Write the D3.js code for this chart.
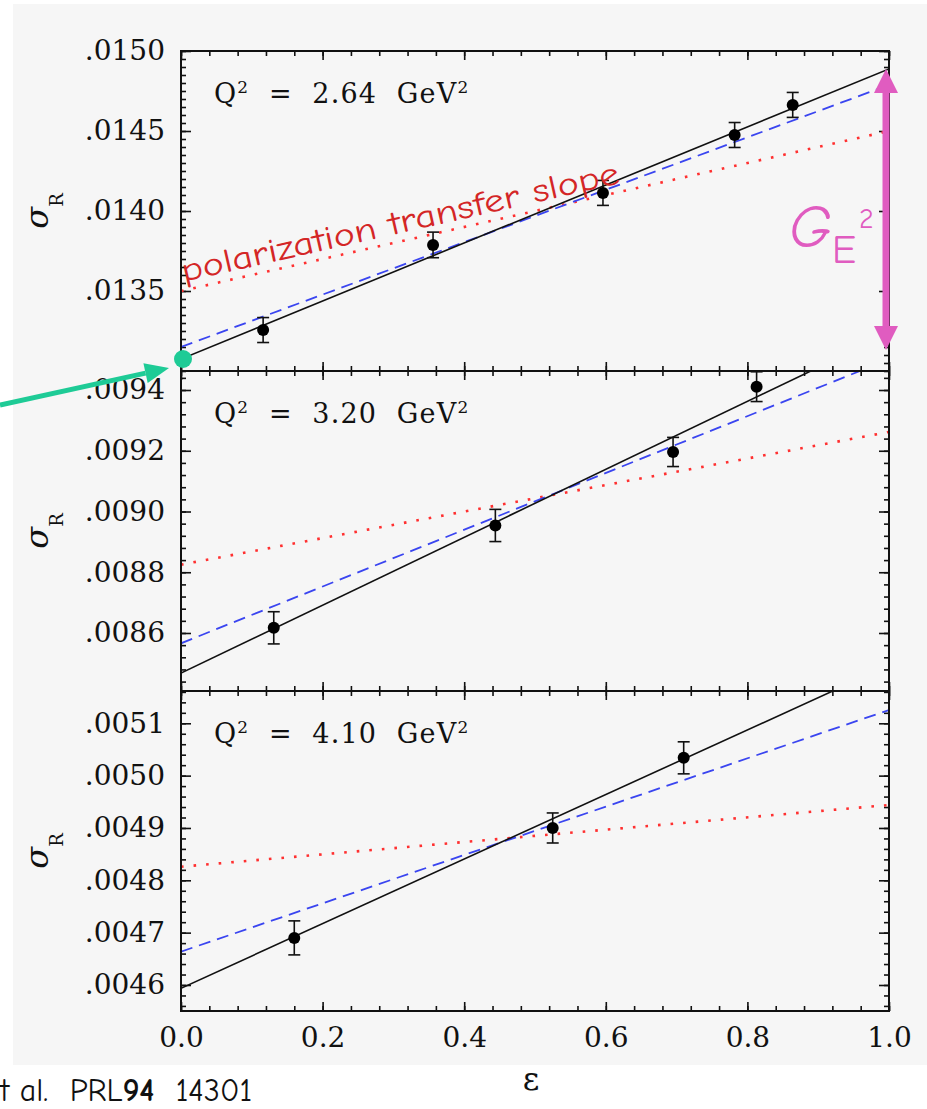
<!DOCTYPE html>
<html>
<head>
<meta charset="utf-8">
<script src="https://cdn.jsdelivr.net/npm/d3@7"></script>
<style>
  body { margin: 0; background: #fff; }
  svg { display: block; }
  .tick text { font-family: "DejaVu Serif", serif; font-size: 28px; fill: #111; }
</style>
</head>
<body>
<svg id="chart" width="927" height="1109"></svg>
<script>
// panel labels
const q2Labels = ["2.64", "3.20", "4.10"];

// Q2 = 2.64 GeV2
const eps1 = [0.116, 0.356, 0.596, 0.782, 0.864];
const sig1 = [0.013256, 0.013788, 0.014113, 0.014475, 0.014663];
const err1 = [0.000078, 0.000080, 0.000078, 0.000078, 0.000078];

// Q2 = 3.20 GeV2
const eps2 = [0.131, 0.444, 0.695, 0.813];
const sig2 = [0.008617, 0.008954, 0.009196, 0.009411];
const err2 = [0.000053, 0.000053, 0.000048, 0.000049];

// Q2 = 4.10 GeV2
const eps3 = [0.160, 0.525, 0.710];
const sig3 = [0.004690, 0.004900, 0.005034];
const err3 = [0.0000325, 0.0000287, 0.0000306];

// straight fits, value at eps = 0 and eps = 1
const fitRosen  = [[0.013075, 0.014888], [0.008468, 0.009586], [0.0045937, 0.0052107]];
const fitGlobal = [[0.013150, 0.014788], [0.008566, 0.009501], [0.0046637, 0.0051254]];
const fitPolT   = [[0.013500, 0.014500], [0.008825, 0.009262], [0.0048260, 0.0049439]];

// axes
const yDomains = [[0.0130, 0.0150], [0.008409, 0.0094626], [0.0045503, 0.0051617]];
const yMajor = [
  [0.0135, 0.0140, 0.0145, 0.0150],
  [0.0086, 0.0088, 0.0090, 0.0092, 0.0094],
  [0.0046, 0.0047, 0.0048, 0.0049, 0.0050, 0.0051]
];
const yMinorStep = [0.00005, 0.00004, 0.00002];
const xMajor = [0, 0.2, 0.4, 0.6, 0.8, 1.0];
const xMinorStep = 0.04;

const series = [
  {eps: eps1, sig: sig1, err: err1},
  {eps: eps2, sig: sig2, err: err2},
  {eps: eps3, sig: sig3, err: err3}
];

const left = 181, right = 889, top0 = 51, ph = 320;
const svg = d3.select("#chart");

svg.append("rect")
  .attr("x", 13).attr("y", 4)
  .attr("width", 914).attr("height", 1061)
  .attr("fill", "#f6f6f6");

const x = d3.scaleLinear().domain([0, 1]).range([left, right]);

function minorTicks(dom, step) {
  const out = [];
  const a = Math.ceil(dom[0] / step - 1e-6), b = Math.floor(dom[1] / step + 1e-6);
  for (let i = a; i <= b; i++) out.push(i * step);
  return out;
}

const fmtY = v => d3.format(".4f")(v).replace(/^0/, "");
const yScales = [];

series.forEach((s, p) => {
  const pTop = top0 + p * ph;
  const y = d3.scaleLinear().domain(yDomains[p]).range([pTop + ph, pTop]);
  yScales.push(y);
  const g = svg.append("g");

  g.append("clipPath").attr("id", "clip" + p)
    .append("rect")
    .attr("x", left).attr("y", pTop)
    .attr("width", right - left).attr("height", ph);

  // minor ticks
  const yMin = minorTicks(yDomains[p], yMinorStep[p]);
  const xMin = minorTicks([0, 1], xMinorStep);
  g.append("g").attr("transform", `translate(${left},0)`)
    .call(d3.axisLeft(y).tickValues(yMin).tickSize(-5).tickFormat(""));
  g.append("g").attr("transform", `translate(${right},0)`)
    .call(d3.axisRight(y).tickValues(yMin).tickSize(-5).tickFormat(""));
  g.append("g").attr("transform", `translate(0,${pTop})`)
    .call(d3.axisTop(x).tickValues(xMin).tickSize(-5).tickFormat(""));
  g.append("g").attr("transform", `translate(0,${pTop + ph})`)
    .call(d3.axisBottom(x).tickValues(xMin).tickSize(-5).tickFormat(""));

  // major ticks with labels
  g.append("g").attr("transform", `translate(${left},0)`)
    .call(d3.axisLeft(y).tickValues(yMajor[p]).tickSize(-10).tickPadding(16).tickFormat(fmtY));
  g.append("g").attr("transform", `translate(${right},0)`)
    .call(d3.axisRight(y).tickValues(yMajor[p]).tickSize(-10).tickFormat(""));
  g.append("g").attr("transform", `translate(0,${pTop})`)
    .call(d3.axisTop(x).tickValues(xMajor).tickSize(-9).tickFormat(""));
  g.append("g").attr("transform", `translate(0,${pTop + ph})`)
    .call(d3.axisBottom(x).tickValues(xMajor).tickSize(-9).tickPadding(16)
      .tickFormat(p === 2 ? d3.format(".1f") : ""));

  g.selectAll(".domain").remove();
  g.selectAll(".tick line").attr("stroke", "#111").attr("stroke-width", 1.6);

  // fit lines
  const lines = g.append("g").attr("clip-path", `url(#clip${p})`);
  const addLine = (f, color, w, dash) => {
    lines.append("line")
      .attr("x1", x(0)).attr("y1", y(f[0]))
      .attr("x2", x(1)).attr("y2", y(f[1]))
      .attr("stroke", color).attr("stroke-width", w)
      .attr("stroke-dasharray", dash);
  };
  addLine(fitPolT[p], "#ff3030", 2.6, "2.6,10");
  addLine(fitGlobal[p], "#3a45f0", 1.8, "12,7");
  addLine(fitRosen[p], "#111", 1.6, null);

  // data with error bars
  const pts = g.append("g").selectAll("g").data(s.eps.map((e, i) => [e, s.sig[i], s.err[i]]))
    .enter().append("g");
  pts.append("line")
    .attr("x1", d => x(d[0])).attr("x2", d => x(d[0]))
    .attr("y1", d => y(d[1] - d[2])).attr("y2", d => y(d[1] + d[2]))
    .attr("stroke", "#111").attr("stroke-width", 1.6);
  [-1, 1].forEach(sg => {
    pts.append("line")
      .attr("x1", d => x(d[0]) - 6).attr("x2", d => x(d[0]) + 6)
      .attr("y1", d => y(d[1] + sg * d[2])).attr("y2", d => y(d[1] + sg * d[2]))
      .attr("stroke", "#111").attr("stroke-width", 1.6);
  });
  pts.append("circle")
    .attr("cx", d => x(d[0])).attr("cy", d => y(d[1])).attr("r", 6)
    .attr("fill", "#000");

  // frame
  g.append("rect")
    .attr("x", left).attr("y", pTop)
    .attr("width", right - left).attr("height", ph)
    .attr("fill", "none").attr("stroke", "#111").attr("stroke-width", 2);

  // Q2 label
  const ql = g.append("text")
    .attr("x", 214).attr("y", pTop + 52)
    .attr("font-family", "DejaVu Serif, serif").attr("font-size", 27)
    .attr("letter-spacing", 1.2)
    .attr("fill", "#111").style("white-space", "pre");
  ql.append("tspan").text("Q");
  ql.append("tspan").attr("font-size", 17).attr("dy", -10).text("2");
  ql.append("tspan").attr("dy", 10).text("  =  " + q2Labels[p] + "  GeV");
  ql.append("tspan").attr("font-size", 17).attr("dy", -10).text("2");

  // sigma_R label
  const yl = g.append("text")
    .attr("transform", `translate(48,${pTop + ph / 2}) rotate(-90)`)
    .attr("text-anchor", "middle")
    .attr("font-family", "DejaVu Serif, serif").attr("fill", "#111");
  yl.append("tspan").attr("font-size", 32).attr("font-style", "italic").text("σ");
  yl.append("tspan").attr("font-size", 18).attr("dy", 15).text("R");
});

// x label
svg.append("text")
  .attr("x", 531).attr("y", 1090)
  .attr("text-anchor", "middle")
  .attr("font-family", "DejaVu Serif, serif").attr("font-size", 32)
  .attr("fill", "#111").text("ε");

// annotations
const yTop = yScales[0];
const hand = "'Comic Neue', 'Open Sans', sans-serif";

// polarization transfer slope, parallel to red line
const ang = Math.atan2(yTop(fitPolT[0][1]) - yTop(fitPolT[0][0]), x(1) - x(0)) * 180 / Math.PI;
svg.append("text")
  .attr("transform", `translate(${x(0) + 3},${yTop(fitPolT[0][0]) - 9}) rotate(${ang})`)
  .attr("font-family", hand).attr("font-size", 33)
  .attr("textLength", 448).attr("lengthAdjust", "spacingAndGlyphs")
  .attr("fill", "#d42626").text("polarization transfer slope");

// G_E^2 double arrow at eps = 1
const pink = "#e05cc0";
const ax = x(1) - 3;
const aTop = yTop(fitRosen[0][1]);
const aBot = yTop(0.013131);
svg.append("line")
  .attr("x1", ax).attr("x2", ax)
  .attr("y1", aTop + 20).attr("y2", aBot - 20)
  .attr("stroke", pink).attr("stroke-width", 7);
svg.append("path")
  .attr("d", `M${ax},${aTop} L${ax - 12},${aTop + 24} L${ax + 12},${aTop + 24} Z
              M${ax},${aBot} L${ax - 12},${aBot - 24} L${ax + 12},${aBot - 24} Z`)
  .attr("fill", pink);

const ge = svg.append("text")
  .attr("x", 789).attr("y", 247)
  .attr("font-family", hand).attr("fill", pink);
ge.append("tspan").attr("font-size", 60).attr("font-style", "italic").text("G");
ge.append("tspan").attr("font-size", 40).attr("dy", 16).text("E");
ge.append("tspan").attr("font-size", 28).attr("dy", -35).attr("dx", 3).text("2");

// green arrow pointing at the eps = 0 intercept
const green = "#1ecb96";
const gx = x(0), gy = yTop(fitRosen[0][0]);
const tipX = gx - 12, tipY = gy + 9;
const sx = 0, sy = gy + 46;
const a = Math.atan2(tipY - sy, tipX - sx);
const hl = 24, hw = 10;
const bx = tipX - hl * Math.cos(a), by = tipY - hl * Math.sin(a);
svg.append("line")
  .attr("x1", sx).attr("y1", sy).attr("x2", bx).attr("y2", by)
  .attr("stroke", green).attr("stroke-width", 5);
svg.append("path")
  .attr("d", `M${tipX},${tipY} L${bx - hw * Math.sin(a)},${by + hw * Math.cos(a)} L${bx + hw * Math.sin(a)},${by - hw * Math.cos(a)} Z`)
  .attr("fill", green);
svg.append("circle").attr("cx", gx + 2).attr("cy", gy).attr("r", 9).attr("fill", green);

// reference, cut at the left edge as in the source
const ref = svg.append("text")
  .attr("x", 0).attr("y", 1101)
  .attr("font-family", hand).attr("font-size", 32)
  .attr("fill", "#111").style("white-space", "pre");
ref.append("tspan").text("t al.  PRL");
ref.append("tspan").attr("font-weight", "bold").text("94");
ref.append("tspan").text("  14301");
</script>
</body>
</html>
